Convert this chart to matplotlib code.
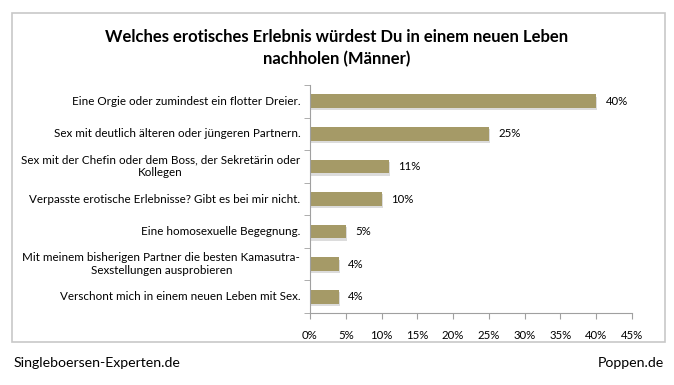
import numpy as np
import matplotlib.pyplot as plt
import matplotlib.transforms as mtransforms
from matplotlib.patches import Rectangle

plt.rcParams['font.family'] = ['Lato', 'DejaVu Sans']

categories = [
    "Eine Orgie oder zumindest ein flotter Dreier.",
    "Sex mit deutlich älteren oder jüngeren Partnern.",
    "Sex mit der Chefin oder dem Boss, der Sekretärin oder\nKollegen",
    "Verpasste erotische Erlebnisse? Gibt es bei mir nicht.",
    "Eine homosexuelle Begegnung.",
    "Mit meinem bisherigen Partner die besten Kamasutra-\nSexstellungen ausprobieren",
    "Verschont mich in einem neuen Leben mit Sex.",
]
values = [40, 25, 11, 10, 5, 4, 4]
xticks = [0, 5, 10, 15, 20, 25, 30, 35, 40, 45]

W, H = 674, 385
fig = plt.figure(figsize=(W / 100, H / 100), dpi=100)

# outer chart border
fig.patches.append(Rectangle((12 / W, 1 - 342 / H), 653 / W, 329 / H,
                             transform=fig.transFigure, fill=False,
                             edgecolor='#c8c8c8', linewidth=1.2))

ax = fig.add_axes([310 / W, 1 - 313 / H, 322 / W, 228 / H])

y = np.arange(len(categories))
# soft shadow under the bars
ax.barh(y + 0.07, values, height=0.42, color='#dcdcdc', left=0.15, zorder=1)
ax.barh(y, values, height=0.42, color='#a59a67', zorder=2)
ax.set_ylim(len(categories) - 0.5, -0.5)
ax.set_xlim(0, 45)

for yi, v in zip(y, values):
    ax.text(v + 1.3, yi, f"{v}%", va='center', ha='left', fontsize=8.2)

ax.set_xticks(xticks)
ax.set_xticklabels([f"{t}%" for t in xticks], fontsize=8.2)

# category labels: right aligned block, lines centred
ax.set_yticks([])
trans = mtransforms.blended_transform_factory(ax.transAxes, ax.transData)
off = mtransforms.ScaledTranslation(-7 / 72, 0, fig.dpi_scale_trans)
for yi, c in zip(y, categories):
    ax.text(0, yi, c, transform=trans + off, ha='right', va='center',
            multialignment='center', fontsize=8.4, linespacing=1.15)

ax.set_yticks(np.arange(-0.5, len(categories), 1), minor=True)
ax.tick_params(axis='y', which='minor', length=4, color='#a0a0a0', direction='out')
ax.tick_params(axis='x', length=4, color='#a0a0a0', pad=8)

for s in ['top', 'right']:
    ax.spines[s].set_visible(False)
for s in ['left', 'bottom']:
    ax.spines[s].set_color('#a0a0a0')

fig.text(337 / W, 1 - 37 / H, "Welches erotisches Erlebnis würdest Du in einem neuen Leben",
         ha='center', va='center', fontsize=12, fontweight='bold')
fig.text(337 / W, 1 - 59 / H, "nachholen (Männer)",
         ha='center', va='center', fontsize=12, fontweight='bold')

fig.text(14 / W, 1 - 363 / H, "Singleboersen-Experten.de", ha='left', va='center', fontsize=10.2)
fig.text(664 / W, 1 - 363 / H, "Poppen.de", ha='right', va='center', fontsize=10.2)

fig.savefig('out.png', dpi=100)
